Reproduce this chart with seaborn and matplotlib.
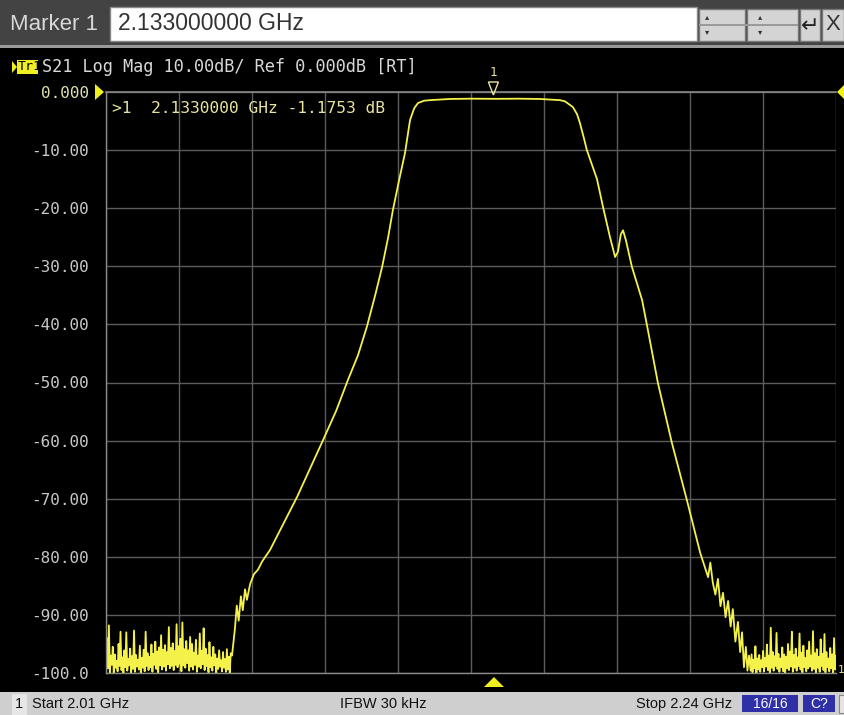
import numpy as np
import pandas as pd
import matplotlib
matplotlib.use("Agg")
import matplotlib.pyplot as plt
import seaborn as sns
from matplotlib.patches import Rectangle, Polygon

# ==========================================
# data
# ==========================================
start_ghz = 2.01
stop_ghz = 2.24
y_ticks = [0, -10, -20, -30, -40, -50, -60, -70, -80, -90, -100]
y_tick_labels = ["0.000", "-10.00", "-20.00", "-30.00", "-40.00", "-50.00",
                 "-60.00", "-70.00", "-80.00", "-90.00", "-100.0"]

# noise floor below the passband, left side (2.010 .. 2.049 GHz)
noise_left_db = [
    -99.8, -94.0, -99.2, -91.8, -99.9, -97.0, -98.6, -95.5, -100.0, -96.8,
    -99.1, -97.9, -99.7, -95.0, -98.8, -92.9, -99.5, -97.3, -100.0, -96.1,
    -99.0, -93.0, -99.6, -97.6, -98.7, -95.8, -99.9, -97.1, -99.3, -92.7,
    -99.8, -96.9, -98.9, -97.7, -99.4, -95.3, -100.0, -97.4, -99.1, -96.0,
    -99.7, -92.9, -98.8, -96.6, -99.5, -97.2, -99.0, -95.1, -99.8, -96.7,
    -98.6, -94.6, -99.3, -96.3, -99.9, -95.6, -98.7, -93.5, -99.4, -96.0,
    -98.9, -95.2, -99.6, -96.4, -98.5, -92.1, -99.2, -95.7, -98.8, -94.9,
    -99.5, -96.2, -98.6, -91.6, -99.0, -95.4, -98.4, -94.1, -99.7, -91.3,
    -98.7, -95.9, -99.1, -94.5, -98.3, -96.1, -99.6, -93.8, -98.9, -95.0,
    -99.4, -96.5, -98.6, -94.3, -99.8, -97.0, -98.9, -93.2, -99.2, -96.2,
    -98.5, -92.3, -99.5, -95.8, -98.8, -96.9, -99.9, -94.7, -99.0, -97.3,
    -99.6, -95.5, -98.7, -96.8, -100.0, -97.5, -99.3, -96.1, -98.9, -97.8,
    -99.7, -96.4, -99.1, -97.6, -99.8, -95.9, -99.4, -97.2, -100.0, -96.6,
]

# filter response (skirts + passband)
band_ghz = [2.0497, 2.0506, 2.0512, 2.0518, 2.0525, 2.0531, 2.0538, 2.0544,
            2.0554, 2.0566, 2.0579, 2.0592, 2.0617, 2.0658, 2.0702, 2.0743,
            2.0784, 2.0825, 2.0862, 2.0894, 2.0922, 2.0948, 2.0970, 2.0989,
            2.1004, 2.1023, 2.1042, 2.1052, 2.1058, 2.1071, 2.1083, 2.1102,
            2.1121, 2.1184, 2.1250, 2.1330, 2.1400, 2.1467, 2.1530, 2.1546,
            2.1571, 2.1584, 2.1593, 2.1606, 2.1615, 2.1631, 2.1647, 2.1666,
            2.1688, 2.1704, 2.1713, 2.1722, 2.1729, 2.1738, 2.1757, 2.1789,
            2.1805, 2.1839, 2.1883, 2.1930, 2.1972, 2.1997, 2.2004, 2.2012,
            2.2020, 2.2028, 2.2036, 2.2044, 2.2052, 2.2060, 2.2068, 2.2075,
            2.2083, 2.2091, 2.2098, 2.2104, 2.2110, 2.2116, 2.2121, 2.2126]
band_db = [-97.0, -92.5, -88.4, -91.0, -86.8, -89.2, -85.6, -87.4,
           -84.7, -83.0, -82.2, -80.8, -78.8, -74.4, -69.7, -64.8,
           -59.9, -54.9, -49.6, -45.3, -40.4, -35.0, -30.1, -25.0,
           -20.3, -15.3, -10.5, -7.0, -4.8, -2.8, -1.9, -1.5,
           -1.4, -1.2, -1.15, -1.175, -1.15, -1.2, -1.4, -1.6,
           -2.6, -3.8, -5.3, -8.0, -10.0, -12.5, -15.0, -19.8,
           -25.0, -28.4, -27.5, -24.5, -23.8, -25.5, -30.1, -35.8,
           -40.3, -50.1, -60.4, -70.2, -79.3, -83.5, -81.0, -84.5,
           -86.5, -83.8, -88.5, -86.2, -90.4, -87.6, -92.0, -89.0,
           -94.6, -91.2, -96.4, -93.0, -99.0, -95.5, -99.6, -97.0]

# noise floor above the passband, right side (2.2130 .. 2.24 GHz)
noise_right_db = [
    -99.6, -96.8, -99.9, -97.7, -99.2, -95.4, -100.0, -97.5, -99.4, -96.9,
    -99.8, -97.8, -99.0, -96.2, -99.7, -97.4, -98.9, -95.1, -99.5, -97.0,
    -99.9, -92.2, -99.1, -96.4, -99.6, -97.1, -98.8, -93.1, -99.3, -96.7,
    -99.8, -97.5, -99.0, -95.6, -99.7, -96.8, -100.0, -97.2, -99.2, -95.0,
    -99.5, -96.3, -98.9, -92.9, -99.8, -96.9, -99.1, -95.8, -99.6, -97.3,
    -98.8, -93.2, -99.4, -96.5, -99.9, -95.3, -99.0, -97.4, -99.7, -96.1,
    -99.2, -94.6, -98.9, -97.0, -99.6, -92.8, -99.3, -96.6, -100.0, -95.9,
    -99.1, -97.2, -99.8, -94.2, -98.8, -96.7, -99.5, -93.3, -99.9, -96.4,
    -99.0, -97.5, -99.7, -95.7, -99.2, -96.8, -100.0, -94.0, -99.4, -97.1,
]

marker_ghz = 2.133
marker_db = -1.1753

# ==========================================
# build the trace table
# ==========================================
freq = np.concatenate([
    np.linspace(start_ghz, 2.0493, len(noise_left_db)),
    np.array(band_ghz),
    np.linspace(2.2131, stop_ghz, len(noise_right_db)),
])
db = np.concatenate([noise_left_db, band_db, noise_right_db])
trace = pd.DataFrame({"freq": freq, "db": db})

# ==========================================
# figure
# ==========================================
W, H = 844, 715
fig = plt.figure(figsize=(W / 100, H / 100), dpi=100)
fig.patch.set_facecolor("black")

def fx(x):
    return x / W

def fy(y):
    return 1 - y / H

def rect(x0, y0, x1, y1, fc, ec="none", lw=0, z=0):
    fig.patches.append(Rectangle((fx(x0), fy(y1)), fx(x1) - fx(x0), fy(y0) - fy(y1),
                                 transform=fig.transFigure, facecolor=fc,
                                 edgecolor=ec, linewidth=lw, zorder=z))

def poly(pts, fc, ec="none", lw=0, z=3):
    fig.patches.append(Polygon([(fx(a), fy(b)) for a, b in pts], closed=True,
                               transform=fig.transFigure, facecolor=fc,
                               edgecolor=ec, linewidth=lw, zorder=z))

mono = "DejaVu Sans Mono"
sans = "Liberation Sans"

# --- top marker entry bar ---
rect(0, 0, W, 47, "#434343")
rect(0, 45, W, 48, "#9a9a9a")
fig.text(fx(10), fy(24), "Marker 1", color="#d8d8d8", fontsize=16,
         family=sans, va="center", ha="left")
rect(110, 7, 697, 41, "white", ec="#888888", lw=1)
fig.text(fx(118), fy(24), "2.133000000 GHz", color="#333333", fontsize=16.5,
         family=sans, va="center", ha="left")
rect(699, 9, 745, 41, "#d4d4d4", ec="#777777", lw=1)
rect(747, 9, 798, 41, "#d4d4d4", ec="#777777", lw=1)
for bx in (705, 758):
    fig.text(fx(bx), fy(17), "\u25b4", color="#333333", fontsize=6, ha="left", va="center")
    fig.text(fx(bx), fy(32), "\u25be", color="#333333", fontsize=6, ha="left", va="center")
rect(699, 24, 798, 26, "#9a9a9a")
rect(800, 9, 820, 41, "#d4d4d4", ec="#777777", lw=1)
fig.text(fx(810), fy(26), "\u21b5", color="#222222", fontsize=16, ha="center",
         va="center", family="DejaVu Sans")
rect(822, 9, W, 41, "#d4d4d4", ec="#777777", lw=1)
fig.text(fx(833), fy(25), "X", color="#333333", fontsize=16, ha="center",
         va="center", family=sans)

# --- bottom status bar ---
rect(0, 692, W, H, "#cfcfcf")
rect(12, 694, 27, H, "#e6e6e6")
fig.text(fx(15), fy(704), "1", color="#111111", fontsize=10.5, family=sans, va="center")
fig.text(fx(32), fy(704), "Start 2.01 GHz", color="#111111", fontsize=10.5,
         family=sans, va="center")
fig.text(fx(383), fy(704), "IFBW 30 kHz", color="#111111", fontsize=10.5,
         family=sans, va="center", ha="center")
fig.text(fx(732), fy(704), "Stop 2.24 GHz", color="#111111", fontsize=10.5,
         family=sans, va="center", ha="right")
rect(742, 695, 798, 712, "#2f2fa8")
fig.text(fx(770), fy(704), "16/16", color="white", fontsize=10, family=sans,
         va="center", ha="center")
rect(803, 695, 835, 712, "#2f2fa8")
fig.text(fx(819), fy(704), "C?", color="white", fontsize=10, family=sans,
         va="center", ha="center")
rect(839, 695, W, 713, "#e6e6e6", ec="#888888", lw=0.8)

# --- trace header ---
poly([(12, 61), (17, 67), (12, 73)], "#f0f020")
rect(17, 60, 38, 74, "#f0f020", z=2)
fig.text(fx(18), fy(67), "Tr1", color="black", fontsize=9.5, family=mono,
         va="center", ha="left", zorder=5)
fig.text(fx(42), fy(67), "S21 Log Mag 10.00dB/ Ref 0.000dB [RT]", color="#d8d8d8",
         fontsize=12.2, family=mono, va="center", ha="left")

# ==========================================
# plot area
# ==========================================
ax = fig.add_axes([fx(106), fy(673), fx(836) - fx(106), fy(92) - fy(673)])
ax.set_facecolor("black")
sns.lineplot(data=trace, x="freq", y="db", ax=ax, sort=False, estimator=None,
             color="#f4f24a", linewidth=1.3)

ax.set_xlim(start_ghz, stop_ghz)
ax.set_ylim(-100, 0)
ax.set_xticks(np.linspace(start_ghz, stop_ghz, 11))
ax.set_xticklabels([])
ax.set_yticks(y_ticks)
ax.set_yticklabels(y_tick_labels, family=mono, fontsize=11.5, color="#c8c8c8")
ax.tick_params(axis="both", length=0, pad=12)
ax.grid(True, color="#5c5c5c", linewidth=1)
ax.set_axisbelow(True)
ax.set_xlabel("")
ax.set_ylabel("")
for side, sp in ax.spines.items():
    sp.set_color("#8a8a8a")
    sp.set_linewidth(1.2 if side == "top" else 1)
ax.spines["right"].set_visible(False)
ax.get_yticklabels()[0].set_color("#e0e0b0")

# marker readout
ax.text(0.008, 0.985, ">1  2.1330000 GHz -1.1753 dB", transform=ax.transAxes,
        color="#e8e4a0", fontsize=11.7, family=mono, va="top", ha="left")

# marker symbol above the trace
mx_px = ax.transData.transform((marker_ghz, marker_db))[0] - 3
fig.text(mx_px / W, fy(73), "1", color="#e8e4a0", fontsize=9, family=mono,
         ha="center", va="center")
poly([(mx_px - 5, 82), (mx_px + 5, 82), (mx_px, 95)], "none", ec="#e8e4a0", lw=1, z=5)

# reference level arrows and trace end flag
poly([(95, 84), (104, 92), (95, 100)], "#f0f020")
poly([(844, 85), (837, 92), (844, 99)], "#f0f020")
poly([(484, 687), (494, 677), (504, 687)], "#f0f020")
fig.text(fx(838), fy(670), "1", color="#e8e4a0", fontsize=8, family=mono,
         ha="left", va="center")

fig.savefig("out.png", dpi=100, facecolor=fig.get_facecolor())
